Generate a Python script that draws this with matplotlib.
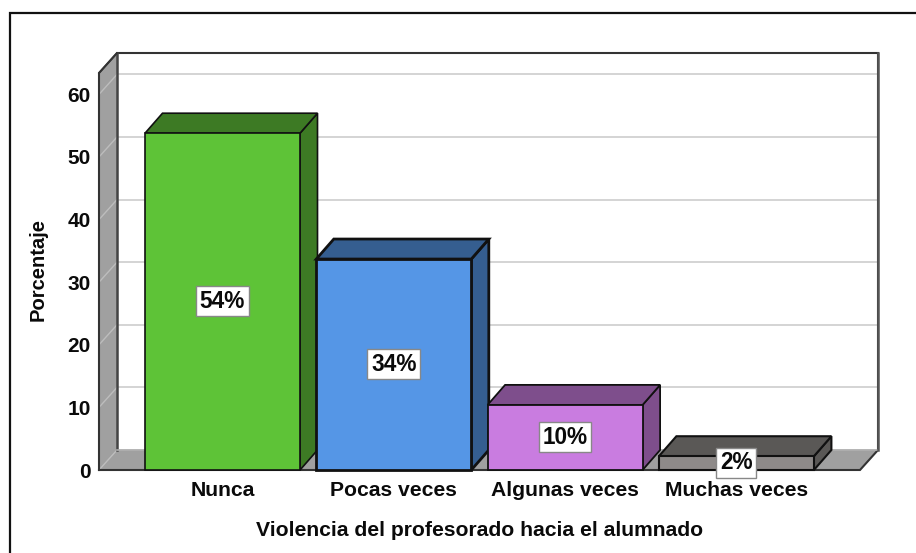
import matplotlib
matplotlib.use('Agg')
import matplotlib.pyplot as plt
from matplotlib.patches import Polygon
from matplotlib.lines import Line2D

plt.rcParams['font.family'] = ['Liberation Sans', 'DejaVu Sans']

categories = ['Nunca', 'Pocas veces', 'Algunas veces', 'Muchas veces']
values = [53.8, 33.7, 10.4, 2.2]
labels = ['54%', '34%', '10%', '2%']
yticks = [0, 10, 20, 30, 40, 50, 60]
front_colors = ['#5EC337', '#5596E6', '#C97CE0', '#8E8A89']
top_colors = ['#3D7A24', '#355E90', '#7E4E8C', '#5A5856']
side_colors = ['#3D7A24', '#355E90', '#7E4E8C', '#5A5856']
edge_widths = [1.2, 2.0, 1.3, 1.5]

W, H = 916, 553
fig = plt.figure(figsize=(W / 100, H / 100), dpi=100)
# front plane of the 3d box, in pixels
left, right, bottom, top = 99, 860, 470, 73
ax = fig.add_axes([left / W, 1 - bottom / H, (right - left) / W, (bottom - top) / H])

px_x = 171.3          # pixels per category
px_y = 6.26           # pixels per percent
x0 = (left - 222.5) / px_x
x1 = (right - 222.5) / px_x
ymax = (bottom - top) / px_y
ax.set_xlim(x0, x1)
ax.set_ylim(0, ymax)
for s in ax.spines.values():
    s.set_visible(False)
ax.patch.set_visible(False)

# depth of wall and bars in data units
wall_dx = 18 / px_x
wall_dy = 20 / px_y
bar_dx = 17.5 / px_x
bar_dy = 20 / px_y
bar_w = 155 / px_x

wall_col = '#A0A0A0'
dark = '#333333'
txt = '#0A0A0A'

def poly(pts, fc, ec='none', lw=0, z=1):
    ax.add_patch(Polygon(pts, closed=True, facecolor=fc, edgecolor=ec, linewidth=lw,
                         zorder=z, clip_on=False, joinstyle='miter'))

# back wall
poly([(x0 + wall_dx, wall_dy), (x1 + wall_dx, wall_dy), (x1 + wall_dx, ymax + wall_dy),
      (x0 + wall_dx, ymax + wall_dy)], 'white', z=1)
for t in yticks:
    ax.plot([x0 + wall_dx, x1 + wall_dx], [t + wall_dy, t + wall_dy], color='#D4D4D4', lw=1.4,
            zorder=2, clip_on=False, solid_capstyle='butt')

# left wall and floor
poly([(x0, 0), (x0 + wall_dx, wall_dy), (x0 + wall_dx, ymax + wall_dy), (x0, ymax)], wall_col, z=3)
poly([(x0, 0), (x1, 0), (x1 + wall_dx, wall_dy), (x0 + wall_dx, wall_dy)], wall_col, z=3)
for t in yticks:
    ax.plot([x0, x0 + wall_dx], [t, t + wall_dy], color='#BDBDBD', lw=1, zorder=3.5, clip_on=False)

# box outlines
ax.plot([x0, x0, x0 + wall_dx, x1 + wall_dx, x1 + wall_dx, x1, x0],
        [0, ymax, ymax + wall_dy, ymax + wall_dy, wall_dy, 0, 0],
        color=dark, lw=1.5, zorder=4, clip_on=False, solid_joinstyle='miter')
ax.plot([x0 + wall_dx, x0 + wall_dx], [ymax + wall_dy, wall_dy], color='#444444', lw=1.8, zorder=4, clip_on=False)
ax.plot([x0 + wall_dx, x1 + wall_dx], [wall_dy, wall_dy], color='#B0B0B0', lw=1.2, zorder=4, clip_on=False)
ax.plot([x1 + wall_dx, x1 + wall_dx], [ymax + wall_dy, wall_dy], color='#555555', lw=1.8, zorder=4, clip_on=False)
ax.plot([x0, x0 + wall_dx], [ymax, ymax + wall_dy], color=dark, lw=1.2, zorder=4, clip_on=False)

# bars
for i, v in enumerate(values):
    z = 5 + i
    l = i - bar_w / 2
    r = i + bar_w / 2
    lw = edge_widths[i]
    poly([(r, 0), (r + bar_dx, bar_dy), (r + bar_dx, v + bar_dy), (r, v)], side_colors[i], '#111111', lw, z)
    poly([(l, v), (r, v), (r + bar_dx, v + bar_dy), (l + bar_dx, v + bar_dy)], top_colors[i], '#111111', lw, z)
    ax.bar(i, v, width=bar_w, color=front_colors[i], edgecolor='#111111', linewidth=lw,
           zorder=z + 0.5, clip_on=False)
    ax.annotate(labels[i], (i, v / 2), xytext=(0, 2), textcoords='offset points', ha='center',
                va='center_baseline', fontsize=16.3, weight='bold', color=txt, zorder=20,
                bbox=dict(boxstyle='square,pad=0.16', facecolor='white', edgecolor='#888888', linewidth=1))

ax.set_xticks(range(len(categories)))
ax.set_xticklabels(categories, fontsize=15.2, weight='bold', color=txt)
ax.set_yticks(yticks)
ax.set_yticklabels([str(t) for t in yticks], fontsize=15, weight='bold', color=txt)
ax.tick_params(axis='both', length=0)
ax.tick_params(axis='x', pad=8)
ax.tick_params(axis='y', pad=6)
ax.set_xlabel('Violencia del profesorado hacia el alumnado', fontsize=15.2, weight='bold', color=txt)
ax.set_ylabel('Porcentaje', fontsize=14.5, weight='bold', color=txt)
ax.xaxis.set_label_coords(0.5, -(530 - bottom) / (bottom - top), transform=ax.transAxes)
ax.xaxis.label.set_va('center')
ax.yaxis.set_label_coords(-(left - 38) / (right - left), 0.505, transform=ax.transAxes)
ax.yaxis.label.set_va('center')

# outer frame, cut off at right and bottom in the source
fig.add_artist(Line2D([9.5 / W, 9.5 / W, 1], [0, 1 - 12.5 / H, 1 - 12.5 / H], color='#111111', lw=1.6,
                      solid_joinstyle='miter'))

fig.savefig('out.png', dpi=100)
